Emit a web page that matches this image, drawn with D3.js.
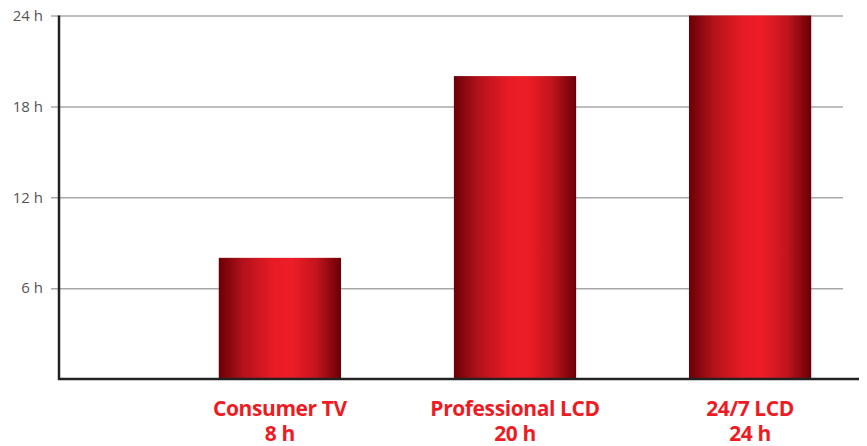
<!DOCTYPE html>
<html>
<head>
<meta charset="utf-8">
<script src="https://cdn.jsdelivr.net/npm/d3@7"></script>
<style>
  body { margin: 0; background: #fff; }
  svg { display: block; }
</style>
</head>
<body>
<svg width="867" height="446"></svg>
<script>
var categories = ["Consumer TV", "Professional LCD", "24/7 LCD"],
    hours = [8, 20, 24],
    tickValues = [6, 12, 18, 24],
    tickLabels = ["6 h", "12 h", "18 h", "24 h"];

var svg = d3.select("svg"),
    width = +svg.attr("width"),
    height = +svg.attr("height");

var y = d3.scaleLinear().domain([0, 24]).range([379, 15.5]);
var x = d3.scaleBand()
    .domain(categories)
    .range([160, 870])
    .paddingInner(0.48)
    .paddingOuter(0.25);

// gradient for the bars
var grad = svg.append("defs").append("linearGradient")
    .attr("id", "barGrad")
    .attr("x1", "0%").attr("x2", "100%")
    .attr("y1", "0%").attr("y2", "0%");
grad.selectAll("stop")
    .data([
      [0, "#6a0006"], [0.2, "#b3121b"], [0.45, "#e81c25"],
      [0.6, "#ed1d26"], [0.8, "#c2151d"], [1, "#680005"]
    ])
    .enter().append("stop")
    .attr("offset", function(d) { return d[0]; })
    .attr("stop-color", function(d) { return d[1]; });

// grid lines + tick labels
var yAxis = d3.axisLeft(y)
    .tickValues(tickValues)
    .tickSize(-(843 - 51))
    .tickPadding(8)
    .tickFormat(function(d, i) { return tickLabels[i]; });

var ga = svg.append("g")
    .attr("transform", "translate(51,0)")
    .call(yAxis);
ga.select(".domain").remove();
ga.selectAll(".tick line")
    .attr("stroke", "#a8a8a8")
    .attr("stroke-width", 1.5)
    .attr("x1", 792).attr("x2", 0);
ga.selectAll(".tick text")
    .attr("fill", "#555")
    .attr("x", -8)
    .style("font-family", "'Open Sans', sans-serif")
    .style("font-size", "15px");

// bars
svg.selectAll("rect.bar")
    .data(hours)
    .enter().append("rect")
    .attr("class", "bar")
    .attr("x", function(d, i) { return x(categories[i]); })
    .attr("width", x.bandwidth())
    .attr("y", function(d) { return y(d); })
    .attr("height", function(d) { return y(0) - y(d); })
    .attr("fill", "url(#barGrad)");

// axis lines
svg.append("line")
    .attr("x1", 59).attr("x2", 59)
    .attr("y1", y(24)).attr("y2", y(0) + 1)
    .attr("stroke", "#222").attr("stroke-width", 2.5);
svg.append("line")
    .attr("x1", 58).attr("x2", 859)
    .attr("y1", y(0)).attr("y2", y(0))
    .attr("stroke", "#222").attr("stroke-width", 2.5);

// category labels, two lines each
var labStyle = function(sel) {
  sel.attr("text-anchor", "middle")
    .attr("fill", "#ed1c24")
    .attr("x", function(d) { return x(d) + x.bandwidth() / 2; })
    .style("font-family", "'Open Sans', sans-serif")
    .style("font-weight", "bold")
    .style("font-size", "21px")
    .style("letter-spacing", "-0.4px");
};
svg.selectAll("text.cat")
    .data(categories)
    .enter().append("text")
    .attr("class", "cat")
    .call(labStyle)
    .attr("y", 416)
    .text(function(d) { return d; });
svg.selectAll("text.val")
    .data(categories)
    .enter().append("text")
    .attr("class", "val")
    .call(labStyle)
    .attr("y", 441)
    .text(function(d, i) { return hours[i] + " h"; });
</script>
</body>
</html>
